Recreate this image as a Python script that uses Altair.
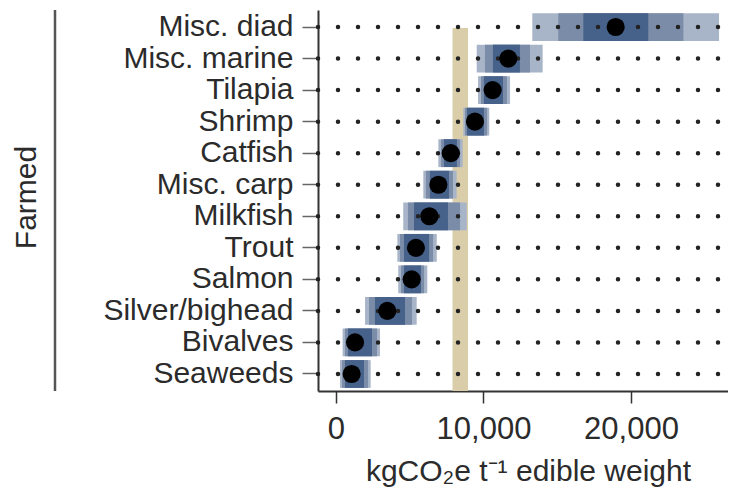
import altair as alt
import pandas as pd

categories = ["Misc. diad", "Misc. marine", "Tilapia", "Shrimp", "Catfish", "Misc. carp",
              "Milkfish", "Trout", "Salmon", "Silver/bighead", "Bivalves", "Seaweeds"]
median = [18960, 11680, 10620, 9420, 7780, 6940, 6330, 5420, 5130, 3480, 1290, 1060]
outer_lo = [13310, 9540, 9630, 8630, 6940, 5920, 4560, 4160, 4220, 1970, 450, 270]
outer_hi = [25970, 14010, 11800, 10390, 8590, 8180, 8860, 6830, 6190, 5470, 2980, 2350]
mid_lo = [15070, 10100, 9830, 8750, 7120, 6100, 4880, 4340, 4410, 2240, 610, 410]
mid_hi = [23550, 13150, 11590, 10240, 8410, 7930, 8410, 6580, 5970, 5150, 2780, 2170]
in_lo = [16770, 10640, 10030, 8880, 7320, 6370, 5290, 4610, 4610, 2640, 810, 610]
in_hi = [21170, 12470, 11320, 10030, 8200, 7660, 7590, 6310, 5760, 4680, 2440, 1900]
ref_band = [7900, 8950]
x_ticks = [0, 10000, 20000]

levels = ["outer", "middle", "inner"]
level_colors = ["#a8b4c7", "#7a8ca7", "#46618a"]

rows = []
for lvl, lo, hi in zip(levels, [outer_lo, mid_lo, in_lo], [outer_hi, mid_hi, in_hi]):
    for c, a, b in zip(categories, lo, hi):
        rows.append({"cat": c, "level": lvl, "lo": a, "hi": b})
ranges = pd.DataFrame(rows)
pts = pd.DataFrame({"cat": categories, "median": median})
band = pd.DataFrame({"lo": [ref_band[0]], "hi": [ref_band[1]]})

W, H = 410, 381
FONT = "Liberation Sans"
xscale = alt.Scale(domain=[-1220, 26576], nice=False, zero=False)
yscale = alt.Scale(domain=categories, paddingInner=0.12, paddingOuter=0.1)

xaxis = alt.Axis(values=x_ticks, format=",d", grid=False, domainColor="#333", domainWidth=2,
                 tickColor="#333", tickWidth=1.5, tickSize=12, labelFontSize=31, labelFont=FONT,
                 labelColor="#2b2b2b", labelBaseline="alphabetic", labelPadding=35,
                 title="kgCO₂e t⁻¹ edible weight", titleFont=FONT, titleFontSize=30,
                 titleFontWeight="normal", titleColor="#2b2b2b", titleBaseline="alphabetic",
                 titleX=210, titleY=89, titleAlign="center")
yaxis = alt.Axis(grid=False, domainColor="#333", domainWidth=2, tickColor="#666", tickWidth=1.5,
                 tickSize=16, labelPadding=9, labelFontSize=30, labelFont=FONT, labelColor="#2b2b2b",
                 labelLimit=400,
                 title="Farmed", titleFont=FONT, titleFontSize=30, titleFontWeight="normal",
                 titleColor="#2b2b2b", titleAngle=-90, titleBaseline="alphabetic",
                 titleX=-283, titleY=187, titleAlign="center")

beige = alt.Chart(band).mark_rect(color="#d9cdaa").encode(
    x=alt.X("lo:Q", scale=xscale, axis=xaxis), x2="hi:Q",
    y=alt.value(18), y2=alt.value(H))

bars = alt.Chart(ranges).mark_bar().encode(
    x=alt.X("lo:Q", scale=xscale), x2="hi:Q",
    y=alt.Y("cat:N", scale=yscale, sort=categories, axis=yaxis),
    color=alt.Color("level:N", scale=alt.Scale(domain=levels, range=level_colors), legend=None))

dots = alt.Chart(pts).mark_rule(color="#222", strokeWidth=4.5, strokeDash=[0, 20],
                                strokeCap="round").encode(
    y=alt.Y("cat:N", scale=yscale, sort=categories, bandPosition=0.5),
    x=alt.value(0), x2=alt.value(W))

circles = alt.Chart(pts).mark_circle(color="black", opacity=1, size=330).encode(
    x=alt.X("median:Q", scale=xscale),
    y=alt.Y("cat:N", scale=yscale, sort=categories))

group_line = alt.Chart(band).mark_rule(color="#555", strokeWidth=2.5).encode(
    x=alt.value(-263), y=alt.value(0), y2=alt.value(H))

chart = alt.layer(beige, bars, dots, circles, group_line).properties(
    width=W, height=H,
    autosize=alt.AutoSizeParams(type="none"),
    padding={"left": 310, "top": 2, "right": 0, "bottom": 100},
).configure_view(stroke=None)

chart.save("out.html", embed_options={"renderer": "svg", "actions": False})
